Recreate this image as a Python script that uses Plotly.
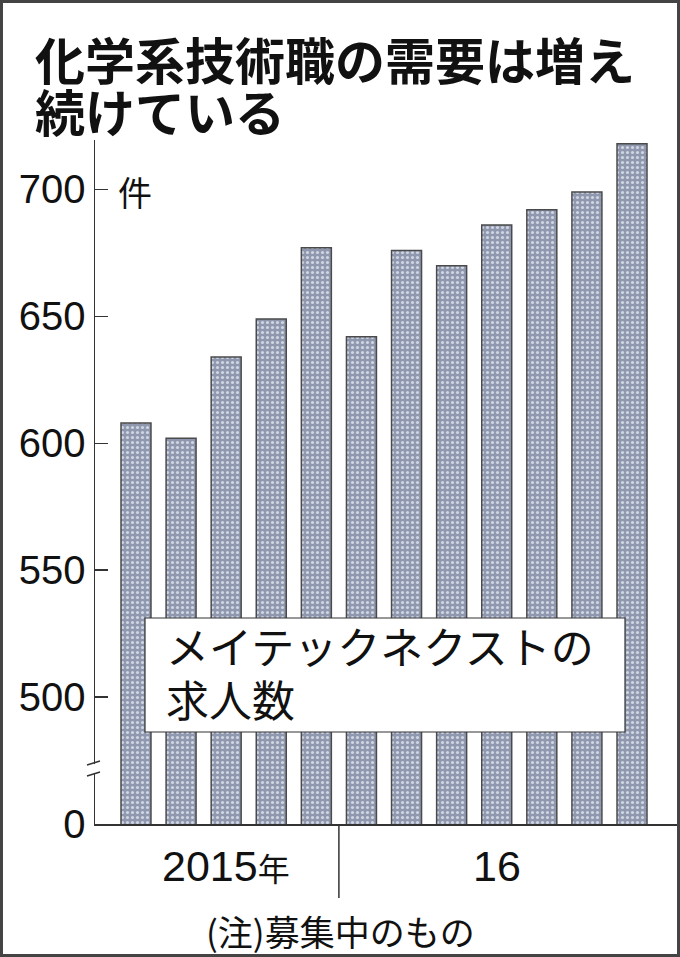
import plotly.graph_objects as go

# ---- data ----
periods = ["2015-1", "2015-2", "2015-3", "2015-4", "2015-5",
           "2016-1", "2016-2", "2016-3", "2016-4", "2016-5", "2016-6", "2016-7"]
year_of_period = ["2015"] * 5 + ["16"] * 7
job_openings = [608, 602, 634, 649, 677, 642, 676, 670, 686, 692, 699, 718]
year_labels = {"2015": "2015<span style='font-size:32px'>年</span>", "16": "16"}
tick_values = [450, 500, 550, 600, 650, 700]
tick_text = ["0", "500", "550", "600", "650", "700"]

title_lines = ["化学系技術職の需要は増え", "続けている"]
unit_label = "件"
legend_lines = ["メイテックネクストの", "求人数"]
note = "(注)募集中のもの"

W, H = 680, 957
PL, PR, PT, PB = 95, 678, 140, 824

def px(x):
    return (x - PL) / (PR - PL)

def py(y):
    return (PB - y) / (PB - PT)

NUM_FONT = "Liberation Sans Narrow, Liberation Sans, Noto Sans CJK JP"
JP_FONT = "Noto Sans CJK JP, Noto Sans CJK SC"

xs = list(range(len(periods)))

fig = go.Figure()
fig.add_trace(go.Bar(
    x=xs, y=job_openings, width=0.665,
    marker=dict(
        color="#8f98ae",
        line=dict(color="#4a4a4a", width=1.5),
        pattern=dict(shape=".", fillmode="replace", bgcolor="#8f98ae",
                     fgcolor="#d0d6e2", size=5, solidity=0.3),
    ),
    hoverinfo="skip",
))

fig.update_layout(
    width=W, height=H,
    margin=dict(l=PL, r=W - PR, t=PT, b=H - PB),
    paper_bgcolor="white", plot_bgcolor="white",
    showlegend=False,
    bargap=0,
    xaxis=dict(range=[-0.909, 12.02], showticklabels=False, ticks="",
               showline=True, linecolor="#333", linewidth=1.5,
               showgrid=False, zeroline=False, fixedrange=True),
    yaxis=dict(range=[450, 719.5], tickvals=tick_values, ticktext=tick_text,
               ticks="inside", ticklen=13, tickwidth=1.5, tickcolor="#333",
               showline=True, linecolor="#333", linewidth=1.5,
               showgrid=False, zeroline=False,
               tickfont=dict(family=NUM_FONT, size=40, color="#111"),
               ticklabelstandoff=0, fixedrange=True),
)

ann = []
# title
ann.append(dict(text="<b>%s</b>" % title_lines[0], x=px(33), y=py(58),
                font=dict(family=JP_FONT, size=50, color="#111")))
ann.append(dict(text="<b>%s</b>" % title_lines[1], x=px(33), y=py(110),
                font=dict(family=JP_FONT, size=50, color="#111")))
# unit
ann.append(dict(text=unit_label, x=px(116), y=py(191),
                font=dict(family=JP_FONT, size=34, color="#111")))
# legend box text
ann.append(dict(text=legend_lines[0], x=px(164), y=py(645),
                font=dict(family=JP_FONT, size=43, color="#111")))
ann.append(dict(text=legend_lines[1], x=px(164), y=py(698),
                font=dict(family=JP_FONT, size=43, color="#111")))
for a in ann:
    a.update(xref="paper", yref="paper", xanchor="left", yanchor="middle",
             showarrow=False)

# year labels (centered under each year's bars)
groups = {}
for i, yv in enumerate(year_of_period):
    groups.setdefault(yv, []).append(xs[i])
for yv, idx in groups.items():
    ann.append(dict(text=year_labels[yv], x=sum(idx) / len(idx), xref="x",
                    y=py(866), yref="paper", xanchor="center", yanchor="middle",
                    showarrow=False,
                    font=dict(family=NUM_FONT, size=43, color="#111")))
# note
ann.append(dict(text=note, x=px(340), y=py(930), xref="paper", yref="paper",
                xanchor="center", yanchor="middle", showarrow=False,
                font=dict(family=JP_FONT, size=35, color="#111")))
fig.update_layout(annotations=ann)

shapes = []
# year divider
keys = list(groups.keys())
div_x = (groups[keys[0]][-1] + groups[keys[1]][0]) / 2
shapes.append(dict(type="line", xref="x", yref="paper", x0=div_x, x1=div_x,
                   y0=0, y1=py(898), line=dict(color="#333", width=1.5)))
# legend box
shapes.append(dict(type="rect", xref="paper", yref="paper",
                   x0=px(145), x1=px(625), y0=py(732), y1=py(618),
                   fillcolor="white", line=dict(color="#333", width=1.2),
                   layer="above"))
# axis break
shapes.append(dict(type="rect", xref="paper", yref="paper",
                   x0=px(92), x1=px(98), y0=py(773), y1=py(764),
                   fillcolor="white", line=dict(width=0), layer="above"))
shapes.append(dict(type="line", xref="paper", yref="paper",
                   x0=px(87), x1=px(100), y0=py(765), y1=py(761),
                   line=dict(color="#333", width=1.5), layer="above"))
shapes.append(dict(type="line", xref="paper", yref="paper",
                   x0=px(87), x1=px(100), y0=py(776), y1=py(772),
                   line=dict(color="#333", width=1.5), layer="above"))
# outer frame
shapes.append(dict(type="rect", xref="paper", yref="paper",
                   x0=px(1.5), x1=px(678.5), y0=py(955.5), y1=py(1.5),
                   fillcolor="rgba(0,0,0,0)", line=dict(color="#444", width=3),
                   layer="above"))
fig.update_layout(shapes=shapes)

fig.write_html(
    "out.html",
    config={"displayModeBar": False, "staticPlot": True},
    post_script="document.body.style.margin='0';document.body.style.overflow='hidden';",
)
